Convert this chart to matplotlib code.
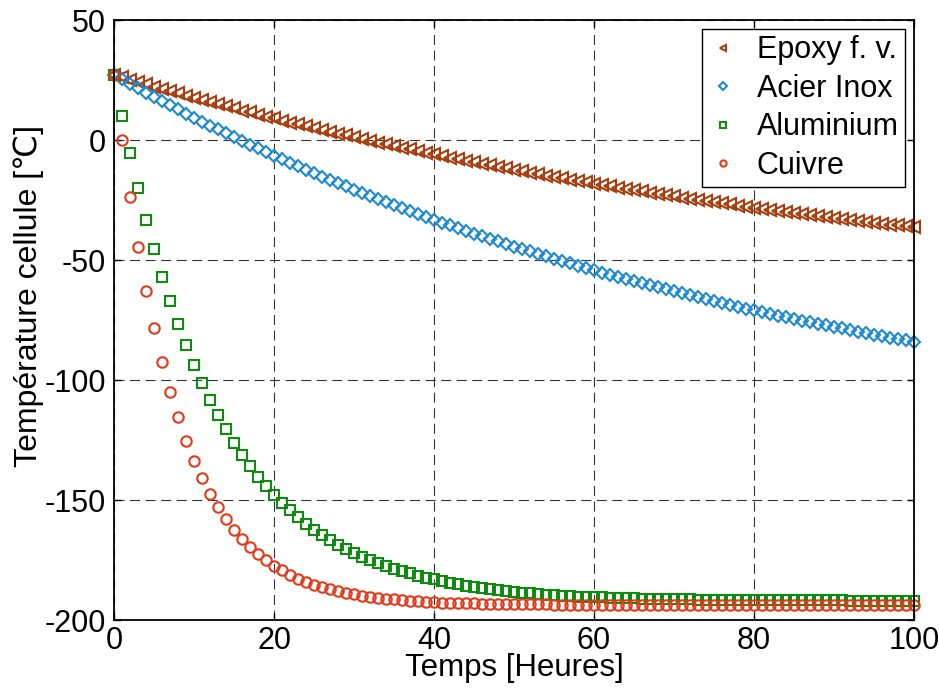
import matplotlib
matplotlib.use("Agg")
import matplotlib.pyplot as plt
import numpy as np

plt.rcParams["font.family"] = ["Liberation Sans", "DejaVu Sans"]
plt.rcParams["axes.unicode_minus"] = False

# temps en heures, un point par heure
hours = np.arange(0, 101)

epoxy = [
    27.2, 26.2, 25.2, 24.2, 23.3, 22.3, 21.3, 20.4, 19.5, 18.5,
    17.6, 16.7, 15.8, 14.9, 14.1, 13.2, 12.3, 11.5, 10.6, 9.8,
    9.0, 8.1, 7.3, 6.5, 5.7, 4.9, 4.2, 3.4, 2.6, 1.9,
    1.1, 0.4, -0.4, -1.1, -1.8, -2.5, -3.2, -3.9, -4.6, -5.3,
    -6.0, -6.6, -7.3, -8.0, -8.6, -9.3, -9.9, -10.5, -11.2, -11.8,
    -12.4, -13.0, -13.6, -14.2, -14.8, -15.4, -15.9, -16.5, -17.1, -17.6,
    -18.2, -18.7, -19.3, -19.8, -20.4, -20.9, -21.4, -21.9, -22.4, -22.9,
    -23.4, -24.0, -24.4, -24.9, -25.4, -25.9, -26.3, -26.8, -27.3, -27.8,
    -28.2, -28.6, -29.1, -29.5, -30.0, -30.4, -30.8, -31.2, -31.7, -32.1,
    -32.5, -32.9, -33.3, -33.7, -34.1, -34.5, -34.9, -35.3, -35.6, -36.0,
    -36.4,
]

acier = [
    27.2, 25.3, 23.5, 21.6, 19.8, 18.0, 16.2, 14.5, 12.8, 11.0,
    9.3, 7.7, 6.0, 4.4, 2.8, 1.2, -0.3, -1.9, -3.4, -5.0,
    -6.5, -8.0, -9.4, -10.9, -12.3, -13.8, -15.2, -16.6, -17.9, -19.3,
    -20.7, -22.0, -23.3, -24.5, -25.8, -27.1, -28.3, -29.5, -30.8, -32.0,
    -33.2, -34.4, -35.5, -36.7, -37.8, -39.0, -40.1, -41.2, -42.2, -43.3,
    -44.4, -45.4, -46.4, -47.5, -48.5, -49.5, -50.5, -51.4, -52.4, -53.3,
    -54.3, -55.2, -56.1, -57.0, -57.9, -58.8, -59.7, -60.5, -61.4, -62.2,
    -63.1, -63.9, -64.7, -65.6, -66.4, -67.2, -68.0, -68.7, -69.5, -70.2,
    -71.0, -71.7, -72.4, -73.2, -73.9, -74.6, -75.3, -75.9, -76.6, -77.2,
    -77.9, -78.5, -79.2, -79.8, -80.5, -81.1, -81.7, -82.3, -82.9, -83.5,
    -84.1,
]

aluminium = [
    27.2, 10.1, -5.6, -20.0, -33.3, -45.6, -56.9, -67.2, -76.8, -85.6,
    -93.8, -101.3, -108.3, -114.7, -120.6, -126.1, -131.2, -135.9, -140.2, -144.1,
    -147.7, -151.1, -154.2, -157.1, -159.8, -162.3, -164.6, -166.7, -168.6, -170.4,
    -172.0, -173.6, -175.0, -176.3, -177.5, -178.6, -179.7, -180.6, -181.5, -182.3,
    -183.1, -183.8, -184.5, -185.1, -185.7, -186.2, -186.7, -187.1, -187.5, -187.9,
    -188.3, -188.6, -188.9, -189.2, -189.4, -189.6, -189.8, -190.0, -190.2, -190.4,
    -190.5, -190.6, -190.7, -190.8, -190.9, -191.0, -191.1, -191.2, -191.2, -191.3,
    -191.3, -191.4, -191.4, -191.5, -191.5, -191.5, -191.6, -191.6, -191.6, -191.7,
    -191.7, -191.7, -191.7, -191.7, -191.8, -191.8, -191.8, -191.8, -191.8, -191.8,
    -191.8, -191.8, -191.9, -191.9, -191.9, -191.9, -191.9, -191.9, -191.9, -191.9,
    -191.9,
]

cuivre = [
    27.2, 0.0, -23.6, -44.4, -62.8, -78.5, -92.6, -104.9, -115.6, -125.3,
    -133.6, -140.8, -147.3, -152.9, -157.9, -162.3, -166.1, -169.5, -172.4, -175.0,
    -177.3, -179.3, -181.1, -182.7, -184.0, -185.2, -186.2, -187.1, -187.9, -188.6,
    -189.3, -189.8, -190.3, -190.7, -191.1, -191.4, -191.7, -191.9, -192.1, -192.3,
    -192.5, -192.7, -192.8, -192.9, -193.0, -193.1, -193.2, -193.3, -193.3, -193.4,
    -193.4, -193.5, -193.5, -193.5, -193.5, -193.6, -193.6, -193.6, -193.6, -193.6,
    -193.6, -193.6, -193.7, -193.7, -193.7, -193.7, -193.7, -193.7, -193.7, -193.7,
    -193.7, -193.7, -193.7, -193.7, -193.7, -193.7, -193.8, -193.8, -193.8, -193.8,
    -193.8, -193.8, -193.8, -193.8, -193.8, -193.8, -193.8, -193.8, -193.8, -193.8,
    -193.8, -193.8, -193.8, -193.8, -193.8, -193.8, -193.8, -193.8, -193.8, -193.8,
    -193.8,
]

series = [
    ("Epoxy f. v.", epoxy, "<", "#a83c0c", 8),
    ("Acier Inox", acier, "D", "#1f8ad0", 6.5),
    ("Aluminium", aluminium, "s", "#108a10", 6.5),
    ("Cuivre", cuivre, "o", "#e23a1a", 7.5),
]

fig = plt.figure(figsize=(9.39, 6.88), dpi=100)
ax = fig.add_axes([0.1214, 0.0988, 0.8520, 0.8721])

for label, values, marker, color, ms in series:
    ax.plot(hours, values, linestyle="none", marker=marker, markersize=ms,
            markerfacecolor="none", markeredgecolor=color, markeredgewidth=1.5,
            label=label, clip_on=False)

ax.set_xlim(0, 100)
ax.set_ylim(-200, 50)
ax.set_xticks([0, 20, 40, 60, 80, 100])
ax.set_yticks([-200, -150, -100, -50, 0, 50])
ax.grid(True, color="black", linestyle=(0, (9, 5)), linewidth=0.8, alpha=0.8)
ax.tick_params(direction="in", labelsize=22, length=5, width=1, top=True,
               right=True)
ax.tick_params(axis="x", pad=4)
ax.tick_params(axis="y", pad=6)
for sp in ax.spines.values():
    sp.set_linewidth(1.3)

ax.set_xlabel("Temps [Heures]", fontsize=22.5, labelpad=-2)
ax.set_ylabel("Température cellule [℃]", fontsize=23)
ax.yaxis.set_label_coords(-0.088, 0.54)

leg = ax.legend(loc="upper right", fontsize=22, fancybox=False, framealpha=1,
                edgecolor="black", markerscale=0.6, handlelength=1.0,
                handletextpad=0.6, borderpad=0.2, labelspacing=0.28,
                borderaxespad=0.3)
leg.get_frame().set_linewidth(1.0)

fig.savefig("out.png", dpi=100)
